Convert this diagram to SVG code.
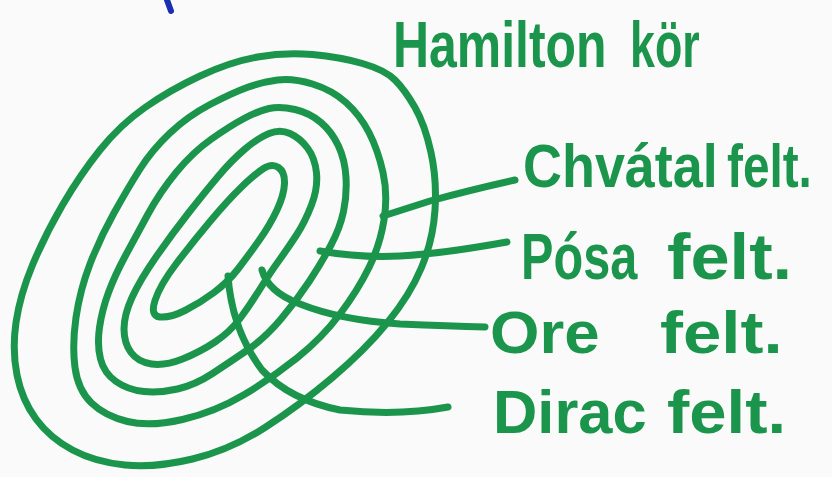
<svg xmlns="http://www.w3.org/2000/svg" width="832" height="477" viewBox="0 0 832 477">
<style>
.ink{fill:none;stroke:#1c954c;stroke-width:7;stroke-linecap:round;stroke-linejoin:round}
.lbl{fill:#1c954c;font-family:"Liberation Sans",Arial,sans-serif;font-weight:bold}
</style>
<rect width="832" height="477" fill="#fafafa"/>
<path d="M167,0 L171,11" stroke="#1a2fb0" stroke-width="6" stroke-linecap="round" fill="none"/>
<g id="hamilton">
<path class="ink" d="M362.5,63.5 Q340,57 312.5,54.5 T257.5,57 T200,76 T145,107.5 T100,150 T62.5,205 T32.5,265 T16,322.5 T17,375 T36,419 T72.5,450 T125,465 T192.5,459 T265,427.5 T332.5,377.5 T387.5,322.5 T421.5,267.5 T435,210 T431,152.5 T415,107.5 T395,80 T362.5,63.5 Z"/>
<text class="lbl" font-size="64" transform="translate(393,67) scale(0.78,1)">Hamilton</text>
<text class="lbl" font-size="64" transform="translate(630,67) scale(0.70,1)">kör</text>
</g>
<g id="chvatal">
<path class="ink" d="M312.5,84 Q332,90 346,102.5 T369,132.5 T383,172.5 T384,220 T369,267.5 T340,314 T297,358 T243.5,395 T182.5,419.5 T127.5,421.5 T91.5,403 T75,367.5 T76,317.5 T90,264 T114,213 T140,169 T170,133 T210,104.5 T247,87.5 T277.5,80 T312.5,84 Z"/>
<text class="lbl" font-size="62" transform="translate(523,187) scale(0.87,1)">Chvátal</text>
<text class="lbl" font-size="62" transform="translate(727,187) scale(0.77,1)">felt.</text>
</g>
<g id="posa">
<path class="ink" d="M295,109.5 Q310,113 321,122.5 T338.5,146 T346,177.5 T343.5,211.5 T331,245 T309.5,281 T281,319 T247.5,350 T212.5,373.5 T177.5,389 T144,391.5 T116,381.5 T100.5,359 T99.5,327.5 T108.5,292.5 T125,256.5 T147.5,215 T176.5,172 T211.5,139 T244,118.5 T269,108.5 T295,109.5 Z"/>
<text class="lbl" font-size="64" transform="translate(521,279) scale(0.76,1)">Pósa</text>
<text class="lbl" font-size="64" transform="translate(667,279) scale(1.1,1)">felt.</text>
</g>
<g id="ore">
<path class="ink" d="M290,133.5 Q300,138 307.5,148 T316.5,173 T311.5,205 T296.5,235 T279,260.5 T260,289 T240,318.5 T215,342 T182.5,359 T151.5,364 T131,352.5 T124,329 T132,297.5 T156,257 T188.5,213 T218.5,176 T245,149 T269,133.5 T290,133.5 Z"/>
<text class="lbl" font-size="60" transform="translate(490,353) scale(1.06,1)">Ore</text>
<text class="lbl" font-size="60" transform="translate(660,353) scale(1.15,1)">felt.</text>
</g>
<g id="dirac">
<path class="ink" d="M278.5,167.5 Q285,172 284.5,183.5 T277,210 T259,240.5 T238,269 T214,292.5 T185,310.5 T160,317 T155,300.5 T176,264 T210,221.5 T241.5,187 T263.5,168.5 T278.5,167.5 Z"/>
<text class="lbl" font-size="62" transform="translate(493,433) scale(0.99,1)">Dirac</text>
<text class="lbl" font-size="62" transform="translate(667,433) scale(1.08,1)">felt.</text>
</g>
<g id="connectors">
<path class="ink" d="M383,216 L430,201 Q470,190 515,180"/>
<path class="ink" d="M320,251 Q360,258 400,256 T507,242"/>
<path class="ink" d="M262,270 Q268,292 300,304 Q340,320 400,324 Q450,326 485,327"/>
<path class="ink" d="M228,276 Q232,330 262,370 Q290,400 340,410 Q400,416 448,407"/>
</g>
</svg>
